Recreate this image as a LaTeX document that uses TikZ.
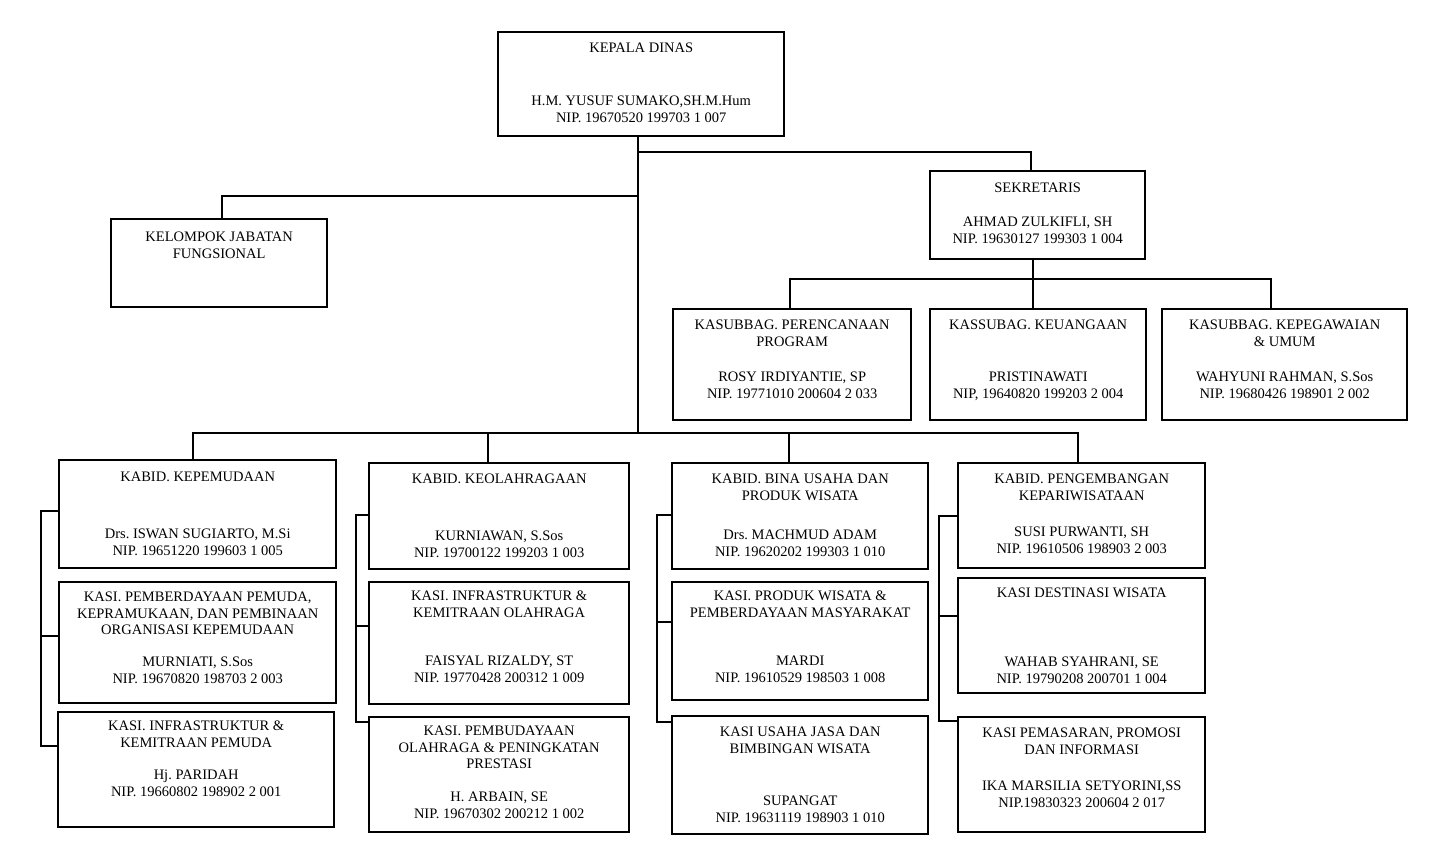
\documentclass[tikz,border=0pt]{standalone}
\usepackage{fontspec}
\setmainfont{Liberation Serif}
\frenchspacing
\begin{document}
\begin{tikzpicture}[x=1pt,y=-1pt,
  unit/.style={draw, line width=2.4pt, inner sep=0pt, anchor=north west},
  lbl/.style={align=center, inner sep=0pt, anchor=north, font=\fontsize{14.5}{16.5}\selectfont},
  link/.style={line width=2.2pt}]
\useasboundingbox (0,0) rectangle (1432,853);

% ---- top level ----
\node[unit, minimum width=286pt, minimum height=104pt] (kd) at (497,31) {};
\node[lbl] (kdT) at (kd.north |- 0,43) {KEPALA DINAS};
\node[lbl] (kdP) at (kd.north |- 0,96) {H.M. YUSUF SUMAKO,SH.M.Hum\\NIP. 19670520 199703 1 007};

\node[unit, minimum width=216pt, minimum height=88pt] (kjf) at (110,218) {};
\node[lbl] (kjfT) at (kjf.north |- 0,232) {KELOMPOK JABATAN\\FUNGSIONAL};

\node[unit, minimum width=215pt, minimum height=88pt] (sek) at (929,170) {};
\node[lbl] (sekT) at (sek.north |- 0,183) {SEKRETARIS};
\node[lbl] (sekP) at (sek.north |- 0,217) {AHMAD ZULKIFLI, SH\\NIP. 19630127 199303 1 004};

% ---- sub-sections of the secretariat ----
\node[unit, minimum width=238pt, minimum height=111pt] (k1) at (672,308) {};
\node[lbl] (k1T) at (k1.north |- 0,320) {KASUBBAG. PERENCANAAN\\PROGRAM};
\node[lbl] (k1P) at (k1.north |- 0,372) {ROSY IRDIYANTIE, SP\\NIP. 19771010 200604 2 033};

\node[unit, minimum width=216pt, minimum height=111pt] (k2) at (929,308) {};
\node[lbl] (k2T) at (k2.north |- 0,320) {KASSUBAG. KEUANGAAN};
\node[lbl] (k2P) at (k2.north |- 0,372) {PRISTINAWATI\\NIP, 19640820 199203 2 004};

\node[unit, minimum width=245pt, minimum height=111pt] (k3) at (1161,308) {};
\node[lbl] (k3T) at (k3.north |- 0,320) {KASUBBAG. KEPEGAWAIAN\\\& UMUM};
\node[lbl] (k3P) at (k3.north |- 0,372) {WAHYUNI RAHMAN, S.Sos\\NIP. 19680426 198901 2 002};

% ---- field: youth ----
\node[unit, minimum width=277pt, minimum height=108pt] (a1) at (58,459) {};
\node[lbl] (a1T) at (a1.north |- 0,472) {KABID. KEPEMUDAAN};
\node[lbl] (a1P) at (a1.north |- 0,529) {Drs. ISWAN SUGIARTO, M.Si\\NIP. 19651220 199603 1 005};

\node[unit, minimum width=277pt, minimum height=121pt] (a2) at (58,581) {};
\node[lbl] (a2T) at (a2.north |- 0,592) {KASI. PEMBERDAYAAN PEMUDA,\\KEPRAMUKAAN, DAN PEMBINAAN\\ORGANISASI KEPEMUDAAN};
\node[lbl] (a2P) at (a2.north |- 0,657) {MURNIATI, S.Sos\\NIP. 19670820 198703 2 003};

\node[unit, minimum width=276pt, minimum height=115pt] (a3) at (57,711) {};
\node[lbl] (a3T) at (a3.north |- 0,721) {KASI. INFRASTRUKTUR \&\\KEMITRAAN PEMUDA};
\node[lbl] (a3P) at (a3.north |- 0,770) {Hj. PARIDAH\\NIP. 19660802 198902 2 001};

% ---- field: sports ----
\node[unit, minimum width=260pt, minimum height=106pt] (c1) at (368,462) {};
\node[lbl] (c1T) at (c1.north |- 0,474) {KABID. KEOLAHRAGAAN};
\node[lbl] (c1P) at (c1.north |- 0,531) {KURNIAWAN, S.Sos\\NIP. 19700122 199203 1 003};

\node[unit, minimum width=260pt, minimum height=122pt] (c2) at (368,581) {};
\node[lbl] (c2T) at (c2.north |- 0,591) {KASI. INFRASTRUKTUR \&\\KEMITRAAN OLAHRAGA};
\node[lbl] (c2P) at (c2.north |- 0,656) {FAISYAL RIZALDY, ST\\NIP. 19770428 200312 1 009};

\node[unit, minimum width=260pt, minimum height=115pt] (c3) at (368,716) {};
\node[lbl] (c3T) at (c3.north |- 0,726) {KASI. PEMBUDAYAAN\\OLAHRAGA \& PENINGKATAN\\PRESTASI};
\node[lbl] (c3P) at (c3.north |- 0,792) {H. ARBAIN, SE\\NIP. 19670302 200212 1 002};

% ---- field: tourism business ----
\node[unit, minimum width=256pt, minimum height=106pt] (b1) at (671,462) {};
\node[lbl] (b1T) at (b1.north |- 0,474) {KABID. BINA USAHA DAN\\PRODUK WISATA};
\node[lbl] (b1P) at (b1.north |- 0,530) {Drs. MACHMUD ADAM\\NIP. 19620202 199303 1 010};

\node[unit, minimum width=256pt, minimum height=118pt] (b2) at (671,581) {};
\node[lbl] (b2T) at (b2.north |- 0,591) {KASI. PRODUK WISATA \&\\PEMBERDAYAAN MASYARAKAT};
\node[lbl] (b2P) at (b2.north |- 0,656) {MARDI\\NIP. 19610529 198503 1 008};

\node[unit, minimum width=256pt, minimum height=118pt] (b3) at (671,715) {};
\node[lbl] (b3T) at (b3.north |- 0,727) {KASI USAHA JASA DAN\\BIMBINGAN WISATA};
\node[lbl] (b3P) at (b3.north |- 0,796) {SUPANGAT\\NIP. 19631119 198903 1 010};

% ---- field: tourism development ----
\node[unit, minimum width=247pt, minimum height=105pt] (d1) at (957,462) {};
\node[lbl] (d1T) at (d1.north |- 0,474) {KABID. PENGEMBANGAN\\KEPARIWISATAAN};
\node[lbl] (d1P) at (d1.north |- 0,527) {SUSI PURWANTI, SH\\NIP. 19610506 198903 2 003};

\node[unit, minimum width=247pt, minimum height=115pt] (d2) at (957,577) {};
\node[lbl] (d2T) at (d2.north |- 0,588) {KASI DESTINASI WISATA};
\node[lbl] (d2P) at (d2.north |- 0,657) {WAHAB SYAHRANI, SE\\NIP. 19790208 200701 1 004};

\node[unit, minimum width=247pt, minimum height=115pt] (d3) at (957,716) {};
\node[lbl] (d3T) at (d3.north |- 0,728) {KASI PEMASARAN, PROMOSI\\DAN INFORMASI};
\node[lbl] (d3P) at (d3.north |- 0,781) {IKA MARSILIA SETYORINI,SS\\NIP.19830323 200604 2 017};

% ---- connectors ----
\coordinate (bus) at (638,433);
\coordinate (sbus) at (1033,279);
\draw[link] (kd.south -| bus) -- (bus);
\draw[link] (bus |- 0,152) -| (sek.north -| 1031,0);
\draw[link] (bus |- 0,196) -| (kjf.north -| 222,0);

\draw[link] (sek.south -| sbus) -- (sbus);
\draw[link] (k1.north -| 790,0) -- (790,279) -- (1271,279) -- (k3.north -| 1271,0);
\draw[link] (k2.north -| sbus) -- (sbus);

\draw[link] (a1.north -| 193,0) -- (193,433) -- (1078,433) -- (d1.north -| 1078,0);
\draw[link] (c1.north -| 488,0) -- (488,433);
\draw[link] (b1.north -| 789,0) -- (789,433);

% side brackets linking each head of field with its sections
\draw[link] (a1.west |- 0,511) -- (41,511) -- (41,746) -- (a3.west |- 0,746);
\draw[link] (41,636) -- (a2.west |- 0,636);
\draw[link] (c1.west |- 0,515) -- (356,515) -- (356,722) -- (c3.west |- 0,722);
\draw[link] (356,626) -- (c2.west |- 0,626);
\draw[link] (b1.west |- 0,515) -- (657,515) -- (657,722) -- (b3.west |- 0,722);
\draw[link] (657,622) -- (b2.west |- 0,622);
\draw[link] (d1.west |- 0,516) -- (939,516) -- (939,721) -- (d3.west |- 0,721);
\draw[link] (939,616) -- (d2.west |- 0,616);
\end{tikzpicture}
\end{document}
